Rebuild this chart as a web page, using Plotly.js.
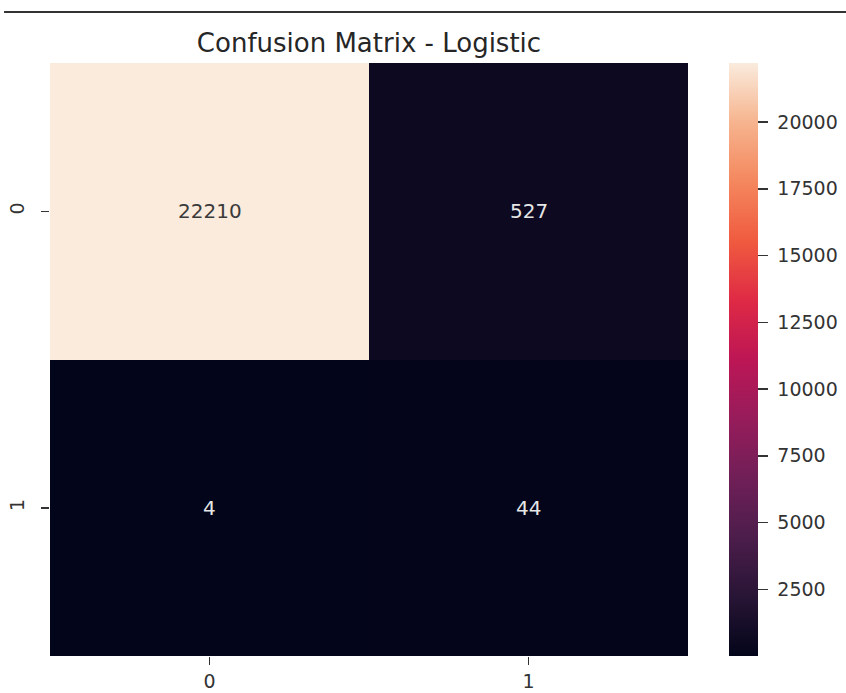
<!DOCTYPE html>
<html>
<head>
<meta charset="utf-8">
<script src="https://cdn.plot.ly/plotly-3.0.1.min.js"></script>
<style>html,body{margin:0;padding:0;background:#fff;}#chart{width:846px;height:693px;}</style>
</head>
<body>
<div id="chart"></div>
<script>
const xLabels = ['0', '1'];
const yLabels = ['0', '1'];
const values = [[22210, 527], [4, 44]];
const colorTicks = [2500, 5000, 7500, 10000, 12500, 15000, 17500, 20000];

const rocket = [
  [0.0, '#03051A'], [0.1, '#281535'], [0.2, '#4C1D4B'], [0.3, '#701F57'],
  [0.4, '#971C5B'], [0.5, '#BD1655'], [0.6, '#DF2A45'], [0.7, '#F05B3F'],
  [0.8, '#F4875E'], [0.9, '#F6B48E'], [1.0, '#FAEBDD']
];

const flat = values.flat();
const zmin = Math.min(...flat), zmax = Math.max(...flat);
const annotations = [];
values.forEach((row, i) => row.forEach((v, j) => {
  const frac = (v - zmin) / (zmax - zmin);
  annotations.push({
    x: xLabels[j], y: yLabels[i], text: String(v), showarrow: false,
    font: {family: 'DejaVu Sans', size: 20, color: frac > 0.5 ? '#3a3a3a' : '#e6e6e6'}
  });
}));

const fontFam = 'DejaVu Sans';
Plotly.newPlot('chart', [{
  type: 'heatmap', x: xLabels, y: yLabels, z: values,
  colorscale: rocket, zmin: zmin, zmax: zmax, xgap: 0, ygap: 0,
  colorbar: {
    x: 1.0645, xanchor: 'left', xref: 'paper', y: 0.5, yanchor: 'middle', len: 1.0, ypad: 0, xpad: 0,
    thickness: 29, thicknessmode: 'pixels', outlinewidth: 0,
    tickvals: colorTicks, ticktext: colorTicks.map(v => '\u00a0' + v),
    ticks: 'outside', ticklen: 10, tickwidth: 1.5, tickcolor: '#333',
    tickfont: {family: fontFam, size: 19, color: '#333'}
  }
}], {
  width: 846, height: 693,
  margin: {l: 50, r: 158, t: 63, b: 37, autoexpand: false},
  paper_bgcolor: '#ffffff', plot_bgcolor: '#ffffff',
  title: {text: 'Confusion Matrix - Logistic', font: {family: fontFam, size: 26, color: '#262626'},
    x: 0.5, xref: 'paper', xanchor: 'center', y: 1 - 43/693, yref: 'container', yanchor: 'middle'},
  xaxis: {type: 'category', ticks: 'outside', ticklen: 8, tickwidth: 1.5, tickcolor: '#333', showgrid: false, zeroline: false,
    ticklabelstandoff: 0, automargin: false,
    tickfont: {family: fontFam, size: 19, color: '#333'}, showline: false},
  yaxis: {type: 'category', autorange: 'reversed', ticks: 'outside', ticklen: 8, tickwidth: 1.5, tickcolor: '#333', showgrid: false,
    ticklabelstandoff: 9, automargin: false,
    zeroline: false, tickangle: -90, tickfont: {family: fontFam, size: 19, color: '#333'}, showline: false},
  annotations: annotations,
  shapes: [{type: 'line', xref: 'paper', yref: 'paper', x0: -0.072, x1: 1.25, y0: 1.086, y1: 1.086,
    line: {color: '#333', width: 2}}]
}, {staticPlot: true});
</script>
</body>
</html>
